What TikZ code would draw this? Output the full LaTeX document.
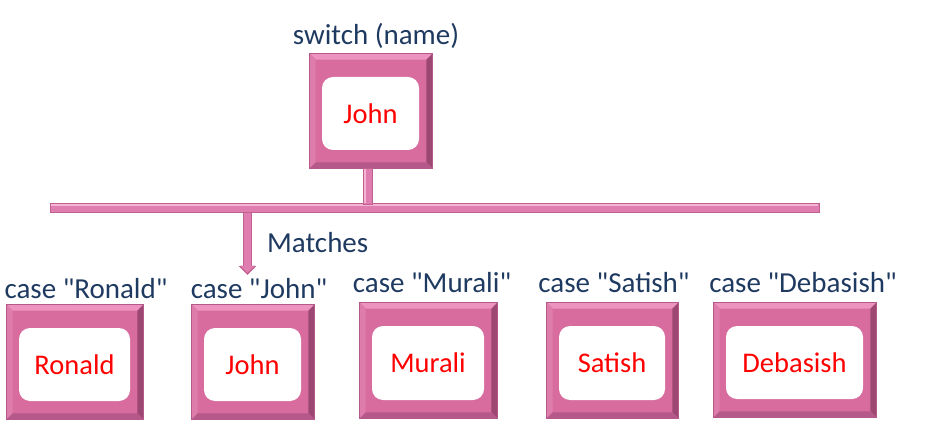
\documentclass[tikz,border=0pt]{standalone}
\usepackage{fontspec}
\setmainfont{Carlito}[Ligatures=TeXOff]
\usetikzlibrary{calc,arrows.meta}
\newcommand\dq{\symbol{34}}
\definecolor{pinkface}{HTML}{D86C9F}
\definecolor{pinklight}{HTML}{EC94BF}
\definecolor{pinkleft}{HTML}{DE7CAB}
\definecolor{pinkdark}{HTML}{9C4872}
\definecolor{pinkdeep}{HTML}{B5598A}
\definecolor{navy}{HTML}{1F3A60}
\definecolor{barpink}{HTML}{E07DB0}
\definecolor{barlight}{HTML}{F7B5D5}
\definecolor{bardark}{HTML}{C0608F}
\tikzset{
  outerbox/.style={rectangle, fill=pinkface, draw=pinkdeep, line width=0.6pt, inner sep=0pt},
  innerbox/.style={rectangle, rounded corners=11pt, fill=white, inner sep=0pt, text=red, font=\fontsize{28.5}{33}\selectfont},
  caselabel/.style={text=navy, font=\fontsize{29}{34}\selectfont, inner sep=0pt, anchor=base},
  barstyle/.style={rectangle, fill=barpink, draw=bardark, line width=0.6pt, inner sep=0pt},
}
% name, x1, y1, x2, y2, text
\newcommand\casebox[6]{%
  \node[outerbox, minimum width={(#4-#2)*1pt}, minimum height={(#5-#3)*1pt}] (#1) at ({(#2+#4)/2},{(#3+#5)/2}) {};
  \fill[pinklight] (#1.north west) -- (#1.north east) -- ($(#1.north east)+(-6,6)$) -- ($(#1.north west)+(6,6)$) -- cycle;
  \fill[pinkleft] (#1.north west) -- ($(#1.north west)+(6,6)$) -- ($(#1.south west)+(6,-6)$) -- (#1.south west) -- cycle;
  \fill[pinkdark] (#1.north east) -- ($(#1.north east)+(-6,6)$) -- ($(#1.south east)+(-6,-6)$) -- (#1.south east) -- cycle;
  \fill[pinkdeep] (#1.south west) -- ($(#1.south west)+(6,-6)$) -- ($(#1.south east)+(-6,-6)$) -- (#1.south east) -- cycle;
  \draw[pinkdeep, line width=0.6pt] (#1.north west) rectangle (#1.south east);
  \node[innerbox, minimum width={(#4-#2-25)*1pt}, minimum height={(#5-#3-41)*1pt}] (#1in) at ({(#2+#4)/2-0.5},{(#3+#5)/2+2.5}) {#6};
}
\begin{document}
\begin{tikzpicture}[x=1pt, y=-1pt]
\useasboundingbox (0,0) rectangle (936,430);

% top switch box
\casebox{sw}{310}{54}{432}{168}{John}
\node[caselabel] (swlab) at (376,45) {switch (name)};

% bar
\node[barstyle, minimum width=769pt, minimum height=9pt] (bar) at (434.5,208) {};
\fill[barlight] ($(bar.north west)+(1,1)$) rectangle ($(bar.north east)+(-1,3)$);

% stem from switch box to bar
\node[barstyle, minimum width=9pt, minimum height=36pt] (stem) at (367.5,186) {};
\fill[barlight] ($(stem.north west)+(1,1)$) rectangle ($(stem.south west)+(3,-1)$);

% arrow
\coordinate (tip) at (247.5,275);
\draw[bardark, line width=9.2pt, -{Triangle[width=17pt,length=9pt]}] (bar.south -| tip) -- (tip);
\draw[barpink, line width=7.6pt, shorten >=2pt, -{Triangle[width=14.5pt,length=7.5pt]}] (bar.south -| tip) -- (tip);
\node[caselabel, anchor=base west] (match) at (267,252) {Matches};

% case boxes
\casebox{c1}{7}{305}{143}{419}{Ronald}
\casebox{c2}{192}{305}{314}{419}{John}
\casebox{c3}{360}{303}{497}{418}{Murali}
\casebox{c4}{547}{303}{678}{418}{Satish}
\casebox{c5}{714}{303}{876}{417}{Debasish}

\node[caselabel] (l1) at (86,298) {case \dq Ronald\dq};
\node[caselabel] (l2) at (259,298) {case \dq John\dq};
\node[caselabel] (l3) at (432,292) {case \dq Murali\dq};
\node[caselabel] (l4) at (614,292) {case \dq Satish\dq};
\node[caselabel] (l5) at (803,292) {case \dq Debasish\dq};
\end{tikzpicture}
\end{document}
